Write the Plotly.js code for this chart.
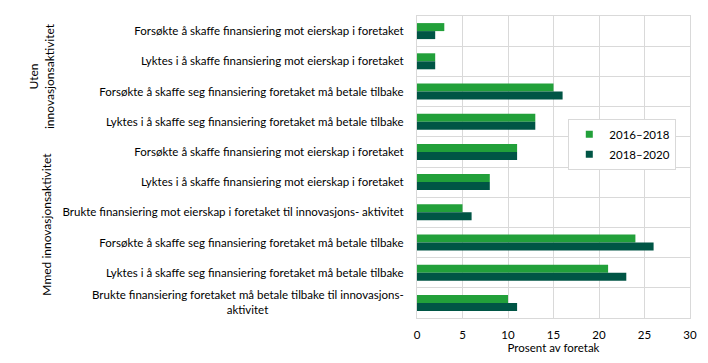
<!DOCTYPE html>
<html>
<head>
<meta charset="utf-8">
<script src="https://cdn.plot.ly/plotly-3.0.1.min.js"></script>
<style>html,body{margin:0;padding:0;background:#fff;}#chart{width:708px;height:363px;}</style>
</head>
<body>
<div id="chart"></div>
<script>
const categories = [
  "Forsøkte å skaffe finansiering mot eierskap i foretaket",
  "Lyktes i å skaffe finansiering mot eierskap i foretaket",
  "Forsøkte å skaffe seg finansiering foretaket må betale tilbake",
  "Lyktes i å skaffe seg finansiering foretaket må betale tilbake",
  "Forsøkte å skaffe finansiering mot eierskap i foretaket",
  "Lyktes i å skaffe finansiering mot eierskap i foretaket",
  "Brukte finansiering mot eierskap i foretaket til innovasjons- aktivitet",
  "Forsøkte å skaffe seg finansiering foretaket må betale tilbake",
  "Lyktes i å skaffe seg finansiering foretaket må betale tilbake",
  "Brukte finansiering foretaket må betale tilbake til innovasjons-<br>aktivitet"
];
const groupIndex = [0,0,0,0,1,1,1,1,1,1];
const groupLabels = ["Uten<br>innovasjonsaktivitet", "Mmed innovasjonsaktivitet"];
const seriesNames = ["2016–2018", "2018–2020"];
const values2016_2018 = [3, 2, 15, 13, 11, 8, 5, 24, 21, 10];
const values2018_2020 = [2, 2, 16, 13, 11, 8, 6, 26, 23, 11];
const xTicks = [0, 5, 10, 15, 20, 25, 30];
const xTitle = "Prosent av foretak";

const fontFam = "Lato, 'Open Sans', sans-serif";
const fs = 11.5;

// centre multi-line labels (tick labels are right-anchored) by padding shorter lines with nbsp
const ctx = document.createElement("canvas").getContext("2d");
ctx.font = fs + "px Lato";
const nbspW = ctx.measureText("\u00a0").width || 2.2;
function centreLines(label) {
  const lines = label.split("<br>");
  if (lines.length < 2) return label;
  const widths = lines.map(l => ctx.measureText(l).width);
  const maxW = Math.max(...widths);
  return lines.map((l, i) => l + "\u00a0".repeat(Math.round((maxW - widths[i]) / 2 / nbspW))).join("<br>");
}
// unique keys for duplicate labels (zero-width spaces are invisible)
const keys = categories.map((c, i) => centreLines(c) + "\u200b".repeat(groupIndex[i]));

const colors = ["#22a03a", "#005545"];
const traces = [
  {type: "bar", orientation: "h", name: seriesNames[0], y: keys, x: values2016_2018,
   marker: {color: colors[0]}, showlegend: false},
  {type: "bar", orientation: "h", name: seriesNames[1], y: keys, x: values2018_2020,
   marker: {color: colors[1]}, showlegend: false},
  // legend entries with small square swatches
  {type: "scatter", mode: "markers", name: seriesNames[0], x: [null], y: [null], legendgroup: "a",
   marker: {color: colors[0], symbol: "square", size: 7}},
  {type: "scatter", mode: "markers", name: seriesNames[1], x: [null], y: [null], legendgroup: "b",
   marker: {color: colors[1], symbol: "square", size: 7}}
];
const layout = {
  width: 708, height: 363,
  margin: {l: 417, r: 18, t: 16, b: 45},
  paper_bgcolor: "#fff", plot_bgcolor: "#fff",
  font: {family: fontFam, size: fs, color: "#000"},
  barmode: "group", bargap: 0.47, bargroupgap: 0,
  showlegend: true,
  legend: {x: 0.752, y: 0.66, xanchor: "center", yanchor: "top",
    bordercolor: "#d9d9d9", borderwidth: 1, bgcolor: "#fff",
    font: {family: fontFam, size: 11.5}, tracegroupgap: 1, itemwidth: 30},
  xaxis: {range: [0, 30], tickvals: xTicks, showgrid: true, gridcolor: "#d9d9d9", gridwidth: 1,
    showline: true, linecolor: "#d9d9d9", mirror: true, zeroline: false, ticks: "",
    ticklabelstandoff: 6, tickfont: {family: fontFam, size: 11.5},
    title: {text: xTitle, font: {family: fontFam, size: 11.5}, standoff: 1}},
  yaxis: {type: "category", autorange: "reversed", tickson: "boundaries", showgrid: true,
    gridcolor: "#d9d9d9", gridwidth: 1, showline: true, linecolor: "#d9d9d9", mirror: true,
    ticks: "", ticklabelstandoff: 10, tickfont: {family: fontFam, size: fs}},
  annotations: [
    {text: groupLabels[0], xref: "paper", yref: "paper", x: -1.375, y: 0.80, textangle: -90,
     showarrow: false, font: {family: fontFam, size: 12}, xanchor: "center", yanchor: "middle"},
    {text: groupLabels[1], xref: "paper", yref: "paper", x: -1.358, y: 0.31, textangle: -90,
     showarrow: false, font: {family: fontFam, size: 12}, xanchor: "center", yanchor: "middle"}
  ]
};
Plotly.newPlot("chart", traces, layout, {displayModeBar: false, staticPlot: true});
</script>
</body>
</html>
